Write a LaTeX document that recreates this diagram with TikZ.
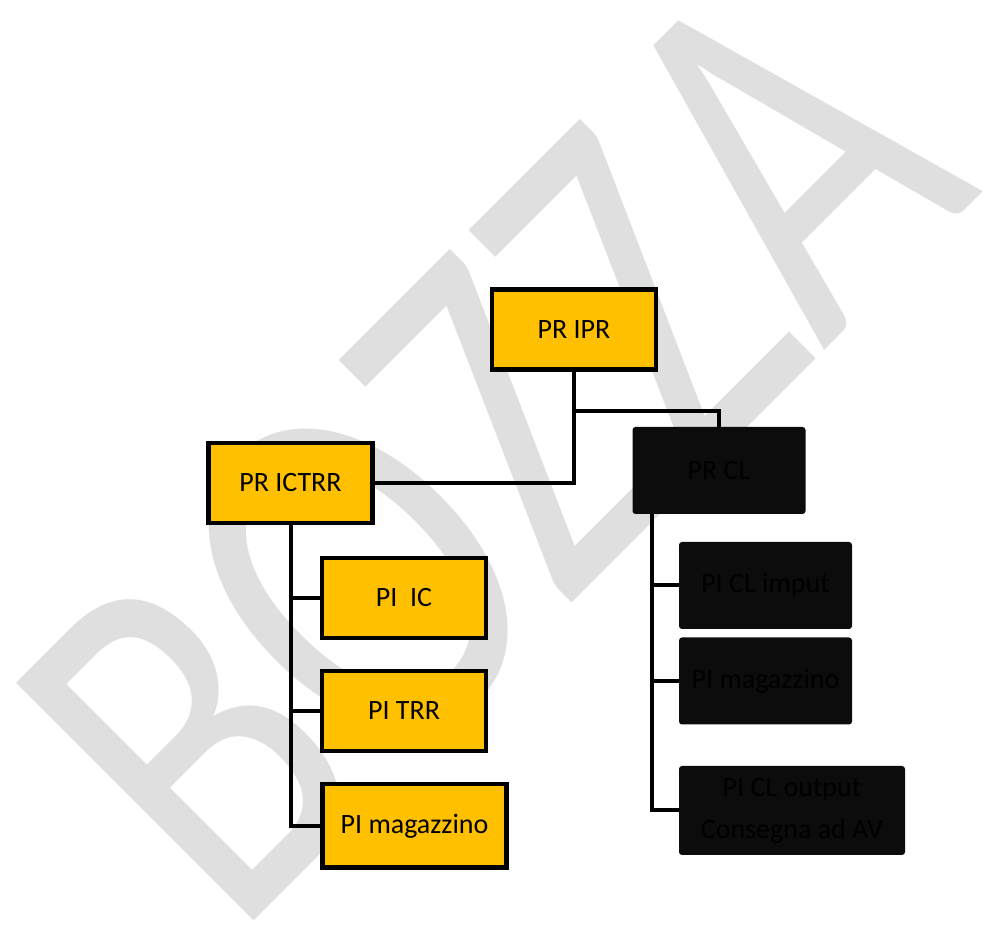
\documentclass[tikz,border=0pt]{standalone}
\usepackage{fontspec}
\setmainfont{Carlito}
\usepackage{tikz}
\definecolor{boxgold}{RGB}{255, 192, 0}
\definecolor{boxdark}{RGB}{12, 12, 12}
\definecolor{markgray}{RGB}{223, 223, 223}
\usetikzlibrary{shapes}
\tikzstyle{yellowbox} = [rectangle, draw, line width=2.25pt, fill=boxgold,
    text=black, align=center, minimum width=82pt, minimum height=40pt,
    font=\fontsize{14}{21}\selectfont]
\tikzstyle{darkbox} = [rectangle, fill=boxdark, rounded corners=1.5pt,
    text=black, align=center, minimum width=86.5pt, minimum height=43.5pt,
    font=\fontsize{14}{21}\selectfont]
\tikzstyle{watermark} = [inner sep=0pt, text=markgray,
    font=\fontsize{262}{262}\selectfont]
\tikzstyle{line} = [draw, line width=2pt]

\begin{document}
\begin{tikzpicture}[x=0.5pt, y=-0.5pt]
  \useasboundingbox (0,0) rectangle (986,929);
  \clip (0,0) rectangle (986,929);
  % draft mark behind everything
  \node [watermark, anchor=base west, rotate=45] (mark) at (234,941)
    {\scalebox{0.75}[1]{BOZZA}};
  \node [yellowbox] (ipr) at (574,329.5) {PR IPR};
  \node [yellowbox, below of=ipr, node distance=76.75pt, xshift=-141.75pt]
    (ictrr) {PR ICTRR};
  \node [darkbox, below of=ipr, node distance=70.5pt, xshift=72.5pt]
    (prcl) {PR CL};
  \node [yellowbox, below of=ictrr, node distance=57.5pt, xshift=56.75pt]
    (piic) {PI~~IC};
  \node [yellowbox, below of=piic, node distance=56.5pt] (pitrr) {PI TRR};
  \node [yellowbox, below of=pitrr, node distance=57.5pt, xshift=5.25pt,
    minimum width=92pt, minimum height=41.75pt] (pimagl) {PI magazzino};
  \node [darkbox, below of=prcl, node distance=57.5pt, xshift=23.25pt]
    (piimput) {PI CL imput};
  \node [darkbox, below of=piimput, node distance=47.75pt] (pimagr)
    {PI magazzino};
  \node [darkbox, below of=pimagr, node distance=64.75pt, xshift=13.25pt,
    minimum width=113pt, minimum height=44.5pt] (piout)
    {PI CL output\\Consegna ad AV};
  \coordinate (split) at ([yshift=-19.5pt]ipr.south);
  \coordinate (rtrunk) at ([xshift=10pt]prcl.south west);
  \path [line] (ipr.south) |- (ictrr.east);
  \path [line] (split) -| (prcl.north);
  \path [line] (ictrr.south) |- (piic.west);
  \path [line] (ictrr.south) |- (pitrr.west);
  \path [line] (ictrr.south) |- (pimagl.west);
  \path [line] (rtrunk) |- (piimput.west);
  \path [line] (rtrunk) |- (pimagr.west);
  \path [line] (rtrunk) |- (piout.west);
\end{tikzpicture}
\end{document}
